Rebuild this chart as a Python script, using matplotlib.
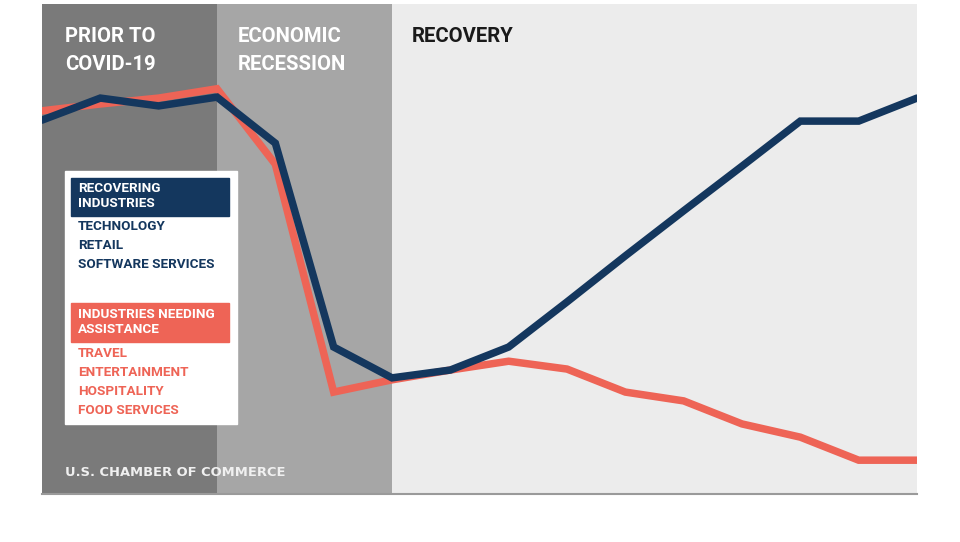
import matplotlib
matplotlib.use("Agg")
import matplotlib.pyplot as plt
from matplotlib.patches import Rectangle

# Index values (0 = bottom, 100 = top of panel)
periods = list(range(16))
recovering = [76.3, 80.8, 79.2, 81.0, 71.6, 30.0, 23.7, 25.3, 30.0, 39.2,
              48.6, 57.8, 66.9, 76.1, 76.1, 80.8]
assistance = [78.2, 79.6, 80.8, 82.7, 67.3, 20.8, 23.3, 25.3, 27.1, 25.5,
              20.8, 19.0, 14.3, 11.6, 6.9, 6.9]

phase_labels = ["PRIOR TO\nCOVID-19", "ECONOMIC\nRECESSION", "RECOVERY"]
phase_bounds = [(0, 3), (3, 6), (6, 15)]
phase_colors = ["#7a7a7a", "#a6a6a6", "#ececec"]
phase_text_colors = ["white", "white", "#1a1a1a"]

recovering_title = "RECOVERING\nINDUSTRIES"
recovering_items = ["TECHNOLOGY", "RETAIL", "SOFTWARE SERVICES"]
assistance_title = "INDUSTRIES NEEDING\nASSISTANCE"
assistance_items = ["TRAVEL", "ENTERTAINMENT", "HOSPITALITY", "FOOD SERVICES"]

NAVY = "#14375e"
RED = "#ee6456"
W, H = 960, 542
COND = ["Liberation Sans Narrow", "Roboto", "DejaVu Sans"]


def fx(x):
    return x / W


def fy(y):
    return 1 - y / H


fig = plt.figure(figsize=(9.6, 5.42), dpi=100)
ax = fig.add_axes([fx(42), fy(494), fx(917) - fx(42), fy(4) - fy(494)])

for (x0, x1), c in zip(phase_bounds, phase_colors):
    ax.axvspan(x0, x1, color=c, lw=0, zorder=0)

ax.plot(periods, assistance, color=RED, lw=5.4, solid_joinstyle="miter",
        solid_capstyle="round", zorder=3)
ax.plot(periods, recovering, color=NAVY, lw=5.4, solid_joinstyle="miter",
        solid_capstyle="round", zorder=4)

ax.set_xlim(0, 15)
ax.set_ylim(0, 100)
ax.set_xticks([])
ax.set_yticks([])
for side in ["top", "left", "right"]:
    ax.spines[side].set_visible(False)
ax.spines["bottom"].set_color("#9a9a9a")
ax.spines["bottom"].set_linewidth(1.5)

# phase headings
heading_x = [65, 238, 412]
for xpix, label, tc in zip(heading_x, phase_labels, phase_text_colors):
    fig.text(fx(xpix), fy(27), label, color=tc, family=COND, weight="bold",
             fontsize=14.6, va="top", ha="left", linespacing=1.6)

# legend card
fig.patches.append(Rectangle((fx(65), fy(424)), fx(237) - fx(65), fy(171) - fy(424),
                             transform=fig.transFigure, color="white", zorder=5))
fig.patches.append(Rectangle((fx(71), fy(216)), fx(229) - fx(71), fy(178) - fy(216),
                             transform=fig.transFigure, color=NAVY, zorder=6))
fig.patches.append(Rectangle((fx(71), fy(342)), fx(229) - fx(71), fy(303) - fy(342),
                             transform=fig.transFigure, color=RED, zorder=6))

fs = 9.7
fig.text(fx(78), fy(182), recovering_title, color="white", family=COND,
         weight="bold", fontsize=fs, va="top", linespacing=1.2, zorder=7)
for i, item in enumerate(recovering_items):
    fig.text(fx(78), fy(220 + i * 19), item, color=NAVY, family=COND,
             weight="bold", fontsize=fs, va="top", zorder=7)

fig.text(fx(78), fy(308), assistance_title, color="white", family=COND,
         weight="bold", fontsize=fs, va="top", linespacing=1.2, zorder=7)
for i, item in enumerate(assistance_items):
    fig.text(fx(78), fy(347 + i * 19), item, color=RED, family=COND,
             weight="bold", fontsize=fs, va="top", zorder=7)

fig.text(fx(65), fy(473), "U.S. CHAMBER OF COMMERCE", color="#f0f0f0",
         family="DejaVu Sans", weight="bold", fontsize=9.4, va="center", ha="left")

fig.savefig("out.png", dpi=100, facecolor="white")
